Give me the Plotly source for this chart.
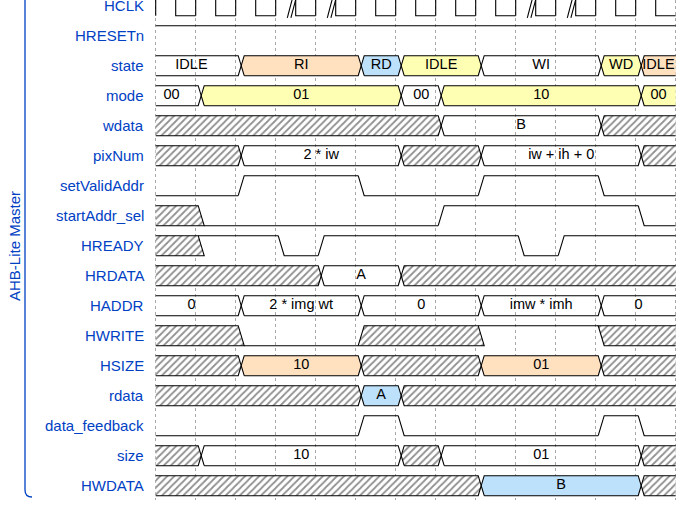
import plotly.graph_objects as go

# signal names, top to bottom
signals = ["HCLK", "HRESETn", "state", "mode", "wdata", "pixNum",
           "setValidAddr", "startAddr_sel", "HREADY", "HRDATA", "HADDR",
           "HWRITE", "HSIZE", "rdata", "data_feedback", "size", "HWDATA"]

# one character per clock period (wavedrom style)
waves = ["p..||....||..", "1............", "=.=..==.=..==", "==....==....=",
         "x......=...x.", "x.=...x.=...x", "0.1..0..1..0.", "x0.....1....0",
         "x1.01....01..", "x...=.x......", "=.=..=..=..=.", "x.0..x..1..x.",
         "x.=..x..=..x.", "x....=x......", "0....10....10", "x=....x=....x",
         "x.......=...x"]

state_data = ["IDLE", "RI", "RD", "IDLE", "WI", "WD", "IDLE"]
state_fill = ["w", "o", "b", "y", "w", "y", "o"]
mode_data = ["00", "01", "00", "10", "00"]
mode_fill = ["w", "y", "w", "y", "y"]
wdata_data = ["B"]
wdata_fill = ["w"]
pixnum_data = ["2 * iw", "iw + ih + 0"]
pixnum_fill = ["w", "w"]
hrdata_data = ["A"]
hrdata_fill = ["w"]
haddr_data = ["0", "2 * img wt", "0", "imw * imh", "0"]
haddr_fill = ["w", "w", "w", "w", "w"]
hsize_data = ["10", "01"]
hsize_fill = ["o", "o"]
rdata_data = ["A"]
rdata_fill = ["b"]
size_data = ["10", "01"]
size_fill = ["w", "w"]
hwdata_data = ["B"]
hwdata_fill = ["b"]

group_name = "AHB-Lite Master"

data_of = {
    "state": (state_data, state_fill), "mode": (mode_data, mode_fill),
    "wdata": (wdata_data, wdata_fill), "pixNum": (pixnum_data, pixnum_fill),
    "HRDATA": (hrdata_data, hrdata_fill), "HADDR": (haddr_data, haddr_fill),
    "HSIZE": (hsize_data, hsize_fill), "rdata": (rdata_data, rdata_fill),
    "size": (size_data, size_fill), "HWDATA": (hwdata_data, hwdata_fill),
}

colors = {"w": None, "y": "#ffffb4", "o": "#ffe0bf", "b": "#bde1fb"}
LABEL_BLUE = "#0041c4"

# page geometry (pixels)
W, HT = 687, 508
X0, PER = 155.7, 40.0      # first clock edge, pixels per period
Y0, ROW = 5.7, 30.0        # first row centre, pixels per row
PLOT_H = 500

R = 1 / 3        # half signal height, in rows
D = 0.1375       # transition centre after the edge, in periods
HW = 0.075       # half width of a transition


def px2x(p):
    return (p - X0) / PER


def px2y(p):
    return (p - Y0) / ROW


def parse(wave, labels, fills):
    segs, gaps, n = [], [], 0
    for k, ch in enumerate(wave):
        if ch in ".|":
            segs[-1][1] = k + 1
            if ch == "|":
                gaps.append(k)
            continue
        lab = fill = None
        if ch == "=":
            lab, fill = labels[n], fills[n]
            n += 1
        segs.append([k, k + 1, ch, lab, fill])
    return segs, gaps


line_x, line_y = [], []
hatch_x, hatch_y = [], []
fill_xy = {}
gap_fx, gap_fy, gap_lx, gap_ly = [], [], [], []
text_x, text_y, text_s = [], [], []


def add(path, xs, ys):
    for p in path:
        if p is None:
            xs.append(None)
            ys.append(None)
        else:
            xs.append(p[0])
            ys.append(p[1])
    xs.append(None)
    ys.append(None)


for i, (name, wave) in enumerate(zip(signals, waves)):
    labels, fills = data_of.get(name, ([], []))
    segs, gaps = parse(wave, labels, fills)
    top, bot, mid = i - R, i + R, i
    lvl = {"0": bot, "1": top}
    for j, (s, e, kind, lab, fill) in enumerate(segs):
        prev = segs[j - 1][2] if j > 0 else None
        nxt = segs[j + 1][2] if j + 1 < len(segs) else None
        if kind == "p":
            for k in range(s, e):
                add([(k, bot), (k, top), (k + 0.5, top), (k + 0.5, bot),
                     (k + 1, bot)], line_x, line_y)
            continue
        if kind in "01":
            y = lvl[kind]
            path = []
            if prev is None:
                path.append((s, y))
            elif prev in "01":
                path += [(s + D - HW, lvl[prev]), (s + D + HW, y)]
            else:
                path.append((s + D - HW if kind == "1" else s + D + HW, y))
            path.append((e + D - HW, y) if nxt else (e, y))
            add(path, line_x, line_y)
            continue
        # data or unknown
        tc, ta, tb = s + D, s + D - HW, s + D + HW
        if prev is None:
            left = [(s, top), (s, bot)]
        elif prev == "0":
            left = [(tb, top), (ta, bot)]
        elif prev == "1":
            left = [(ta, top), (tb, bot)]
        else:
            left = [(tb, top), (tc, mid), (tb, bot)]
        tc, ta, tb = e + D, e + D - HW, e + D + HW
        if nxt is None:
            right = [(e, top), (e, bot)]
        elif nxt in "01":
            right = [(ta, top), (tb, bot)]
        else:
            right = [(ta, top), (tc, mid), (ta, bot)]
        poly = left[::-1] + right + [left[-1]]
        if prev is None and nxt is None:
            outline = [(s, top), (e, top), None, (s, bot), (e, bot)]
        elif prev is None:
            outline = [(s, top)] + right + [(s, bot)]
        elif nxt is None:
            outline = [(e, top)] + left + [(e, bot)]
        else:
            outline = poly
        add(outline, line_x, line_y)
        if kind == "x":
            add(poly, hatch_x, hatch_y)
        else:
            c = colors[fill]
            if c:
                fx, fy = fill_xy.setdefault(c, ([], []))
                add(poly, fx, fy)
            lx = -0.35 if prev is None else s + D
            rx = e if nxt is None else e + D
            text_x.append((lx + rx) / 2)
            text_y.append(i)
            text_s.append(lab)
    for k in gaps:
        c = k + 0.5 - 0.1
        yb, yt = bot + 0.07, top - 0.12
        a0, a1 = c - 0.11, c + 0.06
        g = 0.09
        gap_fx += [a0, a1, a1 + g, a0 + g, a0, None]
        gap_fy += [yb, yt, yt, yb, yb, None]
        add([(a0, yb), (a1, yt), None, (a0 + g, yb), (a1 + g, yt)],
            gap_lx, gap_ly)

n_per = len(waves[0])
fig = go.Figure()

fig.add_trace(go.Scatter(
    x=hatch_x, y=hatch_y, mode="lines", fill="toself", line=dict(width=0),
    fillcolor="white",
    fillpattern=dict(shape="/", fgcolor="#1e1e1e", bgcolor="white",
                     size=5, solidity=0.35),
    hoverinfo="skip"))
for c, (fx, fy) in fill_xy.items():
    fig.add_trace(go.Scatter(x=fx, y=fy, mode="lines", fill="toself",
                             fillcolor=c, line=dict(width=0),
                             hoverinfo="skip"))
fig.add_trace(go.Scatter(x=line_x, y=line_y, mode="lines",
                         line=dict(color="black", width=1.1),
                         hoverinfo="skip"))
fig.add_trace(go.Scatter(x=gap_fx, y=gap_fy, mode="lines", fill="toself",
                         fillcolor="white", line=dict(width=0),
                         hoverinfo="skip"))
fig.add_trace(go.Scatter(x=gap_lx, y=gap_ly, mode="lines",
                         line=dict(color="black", width=1.1),
                         hoverinfo="skip"))
fig.add_trace(go.Scatter(
    x=text_x, y=text_y, text=text_s, mode="text",
    textfont=dict(family="Liberation Sans, Arial", size=14.5, color="black"),
    cliponaxis=False, hoverinfo="skip"))

for i, name in enumerate(signals):
    fig.add_annotation(x=px2x(146), y=i, text=name, showarrow=False,
                       xanchor="right", yanchor="middle",
                       font=dict(family="Liberation Sans, Arial", size=15,
                                 color=LABEL_BLUE))

fig.add_annotation(x=px2x(14), y=px2y(246), text=group_name,
                   textangle=-90, showarrow=False,
                   font=dict(family="Liberation Sans, Arial", size=15,
                             color=LABEL_BLUE))

bx, bx2 = px2x(25), px2x(32)
by0, by1, by2 = px2y(-10), px2y(490), px2y(497)
fig.add_shape(type="path", xref="x", yref="y",
              path=f"M {bx},{by0} L {bx},{by1} Q {bx},{by2} {bx2},{by2}",
              line=dict(color=LABEL_BLUE, width=1.3))

fig.update_layout(
    width=W, height=HT, margin=dict(l=0, r=0, t=0, b=HT - PLOT_H),
    paper_bgcolor="white", plot_bgcolor="white", showlegend=False,
    xaxis=dict(range=[px2x(0), px2x(W)], tickvals=list(range(n_per + 1)),
               showticklabels=False, showgrid=True, gridcolor="#a8a8a8",
               gridwidth=1, griddash="3px,3px", zeroline=False,
               showline=False, fixedrange=True),
    yaxis=dict(range=[px2y(PLOT_H), px2y(0)], showgrid=False,
               zeroline=False, showticklabels=False, showline=False,
               fixedrange=True),
)

fig.write_html("out.html", config={"displayModeBar": False},
               post_script="document.body.style.margin='0';")
